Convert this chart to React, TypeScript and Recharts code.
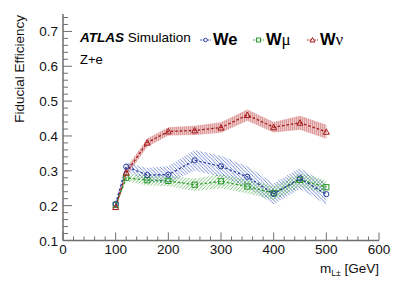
import React from "react";
import { ComposedChart, Line, Area, XAxis, YAxis } from "recharts";

const masses = [100, 120, 160, 200, 250, 300, 350, 400, 450, 500];
const weEff = [0.205, 0.312, 0.288, 0.289, 0.33, 0.313, 0.283, 0.234, 0.278, 0.233];
const weErr = [0.008, 0.012, 0.02, 0.025, 0.03, 0.03, 0.03, 0.03, 0.03, 0.03];
const wmuEff = [0.202, 0.28, 0.273, 0.271, 0.26, 0.27, 0.255, 0.236, 0.274, 0.253];
const wmuErr = [0.008, 0.01, 0.015, 0.015, 0.018, 0.02, 0.02, 0.02, 0.02, 0.02];
const wnuEff = [0.196, 0.295, 0.381, 0.413, 0.416, 0.424, 0.46, 0.425, 0.438, 0.412];
const wnuErr = [0.008, 0.012, 0.012, 0.012, 0.013, 0.015, 0.016, 0.015, 0.02, 0.02];

const xTicks = Array.from({ length: 31 }, (_, i) => i * 20);
const yTicks = Array.from({ length: 33 }, (_, i) => Math.round((0.1 + i * 0.02) * 100) / 100);

const data = masses.map((m, i) => ({
  m,
  we: weEff[i],
  wmu: wmuEff[i],
  wnu: wnuEff[i],
  weBand: [weEff[i] - weErr[i], weEff[i] + weErr[i]],
  wmuBand: [wmuEff[i] - wmuErr[i], wmuEff[i] + wmuErr[i]],
  wnuBand: [wnuEff[i] - wnuErr[i], wnuEff[i] + wnuErr[i]],
}));

const BLUE = "#2b3e9c";
const GREEN = "#2a9a2a";
const RED = "#a31919";
const AXIS = "#6e6e6e";
const FONT = "'Liberation Sans', Arial, sans-serif";
const SERIF = "'Liberation Serif', 'DejaVu Serif', serif";

const isMajorX = (v: number) => v % 100 === 0;
const isMajorY = (v: number) => Math.abs(Math.round(v * 10) - v * 10) < 1e-6;

const BottomTick = (props: any) => {
  const { x, y, payload } = props;
  const major = isMajorX(payload.value);
  return (
    <g>
      <line x1={x} x2={x} y1={y} y2={y - (major ? 8 : 4)} stroke={AXIS} strokeWidth={1} />
      {major && (
        <text x={x} y={y + 13} textAnchor="middle" fontSize={13.5} fontFamily={FONT} fill="#111">
          {payload.value}
        </text>
      )}
    </g>
  );
};
const TopTick = (props: any) => {
  const { x, y, payload } = props;
  const major = isMajorX(payload.value);
  return <line x1={x} x2={x} y1={y} y2={y + (major ? 8 : 4)} stroke={AXIS} strokeWidth={1} />;
};
const LeftTick = (props: any) => {
  const { x, y, payload } = props;
  const major = isMajorY(payload.value);
  return (
    <g>
      <line x1={x} x2={x + (major ? 9 : 5)} y1={y} y2={y} stroke={AXIS} strokeWidth={1} />
      {major && (
        <text x={x - 5} y={y + 5} textAnchor="end" fontSize={13.5} fontFamily={FONT} fill="#111">
          {payload.value.toFixed(1)}
        </text>
      )}
    </g>
  );
};
const RightTick = (props: any) => {
  const { x, y, payload } = props;
  const major = isMajorY(payload.value);
  return <line x1={x} x2={x - (major ? 9 : 5)} y1={y} y2={y} stroke={AXIS} strokeWidth={1} />;
};

const circleDot = (p: any) => (
  <circle key={`c${p.index}`} cx={p.cx} cy={p.cy} r={2.6} fill="none" stroke={BLUE} strokeWidth={1} />
);
const squareDot = (p: any) => (
  <rect key={`s${p.index}`} x={p.cx - 2.6} y={p.cy - 2.6} width={5.2} height={5.2} fill="none" stroke={GREEN} strokeWidth={1} />
);
const triDot = (p: any) => (
  <path
    key={`t${p.index}`}
    d={`M${p.cx},${p.cy - 3} L${p.cx + 3},${p.cy + 2.5} L${p.cx - 3},${p.cy + 2.5} Z`}
    fill="none"
    stroke={RED}
    strokeWidth={1}
  />
);

export default function App() {
  return (
    <div style={{ position: "absolute", left: 0, top: 0, width: 399, height: 286, background: "#fff" }}>
      <ComposedChart width={399} height={286} data={data} margin={{ top: 14, right: 20, left: 0, bottom: 0 }}>
        <defs>
          <pattern id="redHatch" width="2" height="4" patternUnits="userSpaceOnUse">
            <rect x="0" y="0" width="2" height="4" fill="#efc6c6" />
            <line x1="0.5" y1="0" x2="0.5" y2="4" stroke="#dc9c9c" strokeWidth="1" />
          </pattern>
          <pattern id="blueHatch" width="3.5" height="3.5" patternUnits="userSpaceOnUse">
            <path d="M-1,-1 L4.5,4.5 M2.5,-1 L4.5,1 M-1,2.5 L1,4.5" stroke="#5572c8" strokeWidth="0.8" />
          </pattern>
          <pattern id="greenHatch" width="3.5" height="3.5" patternUnits="userSpaceOnUse">
            <path d="M-1,4.5 L4.5,-1 M-1,1 L1,-1 M2.5,4.5 L4.5,2.5" stroke="#52b152" strokeWidth="0.8" />
          </pattern>
        </defs>
        <XAxis
          dataKey="m"
          type="number"
          domain={[0, 600]}
          ticks={xTicks}
          interval={0}
          height={45.5}
          tickLine={false}
          tickSize={0}
          tickMargin={0}
          axisLine={{ stroke: AXIS, strokeWidth: 1.5 }}
          tick={BottomTick}
          allowDataOverflow
        />
        <XAxis
          xAxisId="top"
          orientation="top"
          dataKey="m"
          type="number"
          domain={[0, 600]}
          ticks={xTicks}
          interval={0}
          height={0}
          tickLine={false}
          tickSize={0}
          tickMargin={0}
          axisLine={{ stroke: AXIS, strokeWidth: 1.5 }}
          tick={TopTick}
          allowDataOverflow
        />
        <YAxis
          type="number"
          domain={[0.1, 0.75]}
          ticks={yTicks}
          interval={0}
          width={63}
          tickLine={false}
          tickSize={0}
          tickMargin={0}
          axisLine={{ stroke: AXIS, strokeWidth: 1.5 }}
          tick={LeftTick}
          allowDataOverflow
        />
        <YAxis
          yAxisId="right"
          orientation="right"
          type="number"
          domain={[0.1, 0.75]}
          ticks={yTicks}
          interval={0}
          width={0}
          tickLine={false}
          tickSize={0}
          tickMargin={0}
          axisLine={{ stroke: AXIS, strokeWidth: 1.5 }}
          tick={RightTick}
          allowDataOverflow
        />
        <Area dataKey="wnuBand" stroke="none" fill="url(#redHatch)" fillOpacity={1} isAnimationActive={false} activeDot={false} />
        <Area dataKey="weBand" stroke="none" fill="url(#blueHatch)" fillOpacity={1} isAnimationActive={false} activeDot={false} />
        <Area dataKey="wmuBand" stroke="none" fill="url(#greenHatch)" fillOpacity={1} isAnimationActive={false} activeDot={false} />
        <Line dataKey="wmu" stroke={GREEN} strokeWidth={1.3} strokeDasharray="2.5 2" dot={squareDot} activeDot={false} isAnimationActive={false} />
        <Line dataKey="we" stroke={BLUE} strokeWidth={1.3} strokeDasharray="2.5 2" dot={circleDot} activeDot={false} isAnimationActive={false} />
        <Line dataKey="wnu" stroke={RED} strokeWidth={1.3} strokeDasharray="2.5 2" dot={triDot} activeDot={false} isAnimationActive={false} />
      </ComposedChart>
      <svg
        width={399}
        height={286}
        style={{ position: "absolute", left: 0, top: 0, pointerEvents: "none" }}
        fontFamily={FONT}
      >
        <text x={24} y={15} transform="rotate(-90 24 15)" textAnchor="end" fontSize={13.5} fill="#111">
          Fiducial Efficiency
        </text>
        <text x={379} y={273} textAnchor="end" fontSize={13.5} fill="#111">
          m<tspan fontSize={8.5} dy={3}>L±</tspan>
          <tspan dy={-3}> [GeV]</tspan>
        </text>
        <text x={80} y={42} fontSize={13.5} fill="#000">
          <tspan fontWeight="bold" fontStyle="italic">ATLAS</tspan>
          <tspan> Simulation</tspan>
        </text>
        <text x={80} y={64} fontSize={13} fill="#000">Z+e</text>

        <line x1={200} x2={211} y1={40} y2={40} stroke={BLUE} strokeWidth={1} strokeDasharray="1.5 1" />
        <circle cx={205.5} cy={40} r={1.8} fill="#fff" stroke={BLUE} strokeWidth={1} />
        <text x={213} y={45} fontSize={16.5} fontWeight="bold" fill="#000">We</text>

        <line x1={253} x2={264} y1={40} y2={40} stroke={GREEN} strokeWidth={1} strokeDasharray="1.5 1" />
        <rect x={256.5} y={38} width={4} height={4} fill="#fff" stroke={GREEN} strokeWidth={1} />
        <text x={266} y={45} fontSize={16.5} fill="#000">
          <tspan fontWeight="bold">W</tspan>
          <tspan fontFamily={SERIF} fontSize={17}>μ</tspan>
        </text>

        <line x1={307} x2={318} y1={40} y2={40} stroke={RED} strokeWidth={1} strokeDasharray="1.5 1" />
        <path d="M312.5,37.5 L315,42 L310,42 Z" fill="#fff" stroke={RED} strokeWidth={1} />
        <text x={320} y={45} fontSize={16.5} fill="#000">
          <tspan fontWeight="bold">W</tspan>
          <tspan fontFamily={SERIF} fontSize={17}>ν</tspan>
        </text>
      </svg>
    </div>
  );
}
